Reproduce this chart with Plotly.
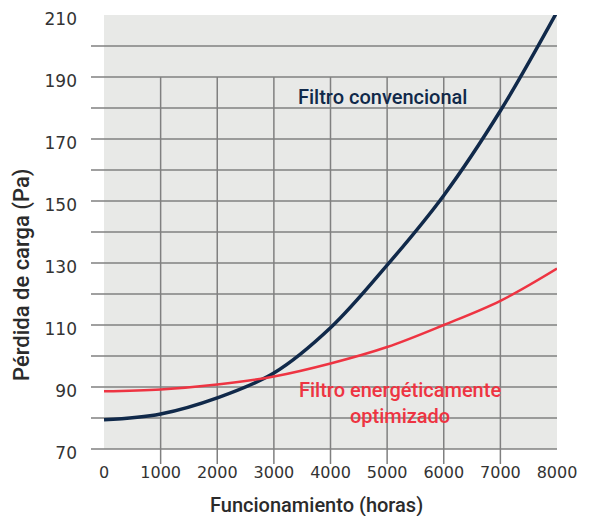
import plotly.graph_objects as go

hours = [0, 1000, 2000, 3000, 4000, 5000, 6000, 7000, 8000]
conventional = [79.4, 81.3, 86.5, 94.5, 109.1, 129.3, 151.8, 179.1, 211.0]
optimized = [88.6, 89.2, 90.8, 93.4, 97.6, 102.9, 110.0, 117.8, 128.2]
y_ticks = [70, 90, 110, 130, 150, 170, 190, 210]
x_ticks = [0, 1000, 2000, 3000, 4000, 5000, 6000, 7000, 8000]
label_conv = "Filtro convencional"
label_opt = "Filtro energéticamente<br>optimizado"
x_title = "Funcionamiento (horas)"
y_title = "Pérdida de carga (Pa)"

YMIN, YMAX = 70, 210
NAVY = "#10294a"
RED = "#ee3442"
GRID = "#808080"
FONT = "Roboto"
TICKFONT = "DejaVu Sans"

# plot area in page pixels: x 104..557, y 15..449 (page has an 8px body offset)
PX0, PX1, PY0, PY1 = 104, 557, 15, 449
OFF = 8
PW, PH = PX1 - PX0, PY1 - PY0

def px(X):
    return (X - PX0) / PW

def py(Y):
    return (PY1 - Y) / PH

fig = go.Figure()
fig.add_trace(go.Scatter(x=hours, y=conventional, mode="lines", line=dict(color=NAVY, width=3.5, shape="spline"),
                         hoverinfo="skip"))
fig.add_trace(go.Scatter(x=hours, y=optimized, mode="lines", line=dict(color=RED, width=2.5, shape="spline"),
                         hoverinfo="skip"))

def fy(v):
    return (v - YMIN) / (YMAX - YMIN)

shapes = []
for v in range(70, 201, 10):
    shapes.append(dict(type="line", xref="paper", yref="paper", x0=px(91), x1=1.0, y0=fy(v), y1=fy(v),
                       line=dict(color=GRID, width=1.5), layer="below"))
for h in range(1000, 8000, 1000):
    shapes.append(dict(type="line", xref="x", yref="paper", x0=h, x1=h, y0=py(464), y1=fy(190),
                       line=dict(color=GRID, width=1.5), layer="below"))

fig.update_layout(
    width=592, height=516,
    margin=dict(l=PX0 - OFF, r=592 - PX1 + OFF, t=PY0 - OFF, b=516 - PY1 + OFF),
    paper_bgcolor="white",
    plot_bgcolor="#e8e9e7",
    showlegend=False,
    shapes=shapes,
    font=dict(family=FONT, color="#333333"),
    xaxis=dict(range=[0, 8000], tickvals=x_ticks, ticktext=[str(v) for v in x_ticks],
               showgrid=False, zeroline=False, showline=False, ticks="", automargin=False,
               ticklabeloverflow="allow",
               tickfont=dict(size=16, color="#333333", family=TICKFONT), ticklabelstandoff=12, fixedrange=True),
    yaxis=dict(range=[YMIN, YMAX], tickvals=y_ticks, ticktext=[str(v) for v in y_ticks],
               showgrid=False, zeroline=False, showline=False, ticks="", automargin=False,
               ticklabeloverflow="allow", ticklabelshift=4,
               tickfont=dict(size=17, color="#333333", family=TICKFONT), ticklabelstandoff=26, fixedrange=True),
    annotations=[
        dict(text=label_conv, xref="paper", yref="paper", x=px(382.5), y=py(97),
             showarrow=False, xanchor="center", yanchor="middle",
             font=dict(size=20, color=NAVY, family=FONT, weight=500)),
        dict(text=label_opt, xref="paper", yref="paper", x=px(400), y=py(403),
             showarrow=False, xanchor="center", yanchor="middle", align="center",
             font=dict(size=20, color=RED, family=FONT, weight=500)),
        dict(text=x_title, xref="paper", yref="paper", x=px(316), y=py(505),
             showarrow=False, xanchor="center", yanchor="middle",
             font=dict(size=20, color="#2b2b2b", family=FONT, weight=500)),
        dict(text=y_title, xref="paper", yref="paper", x=px(22), y=py(275),
             showarrow=False, xanchor="center", yanchor="middle", textangle=-90,
             font=dict(size=22, color="#2b2b2b", family=FONT, weight=500)),
    ],
)

fig.write_html("out.html")
